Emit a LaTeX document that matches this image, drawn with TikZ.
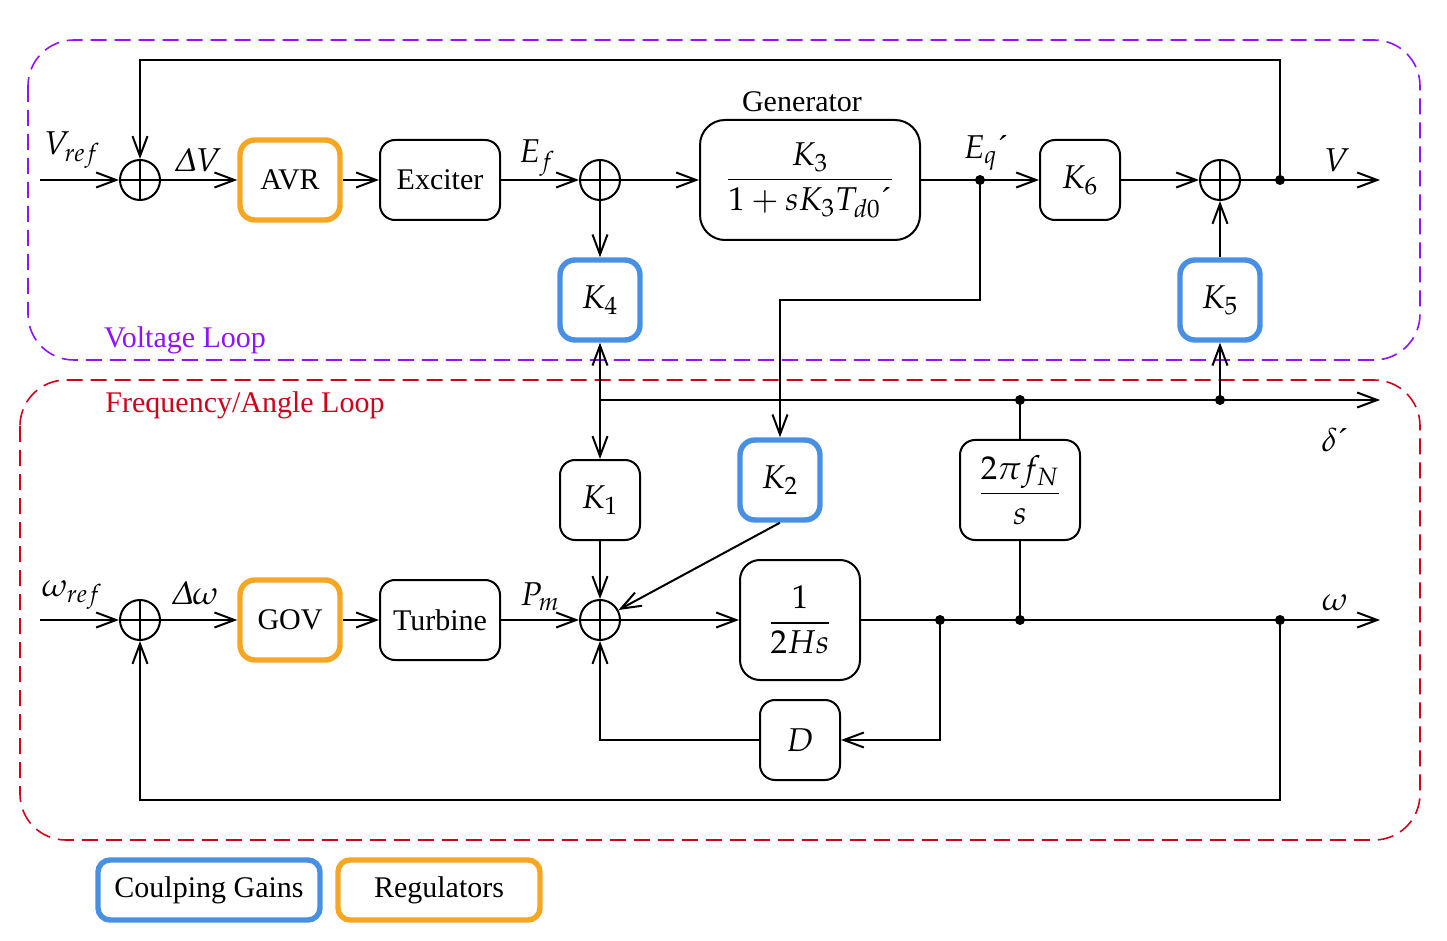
\documentclass[tikz,border=0pt]{standalone}
\usepackage{amsmath}
\usepackage{mathpazo}
\usepackage{fontspec}
\setmainfont{Liberation Serif}
\usetikzlibrary{arrows.meta}
\definecolor{cpurple}{HTML}{9013FE}
\definecolor{cred}{HTML}{D0021B}
\definecolor{cblue}{HTML}{4A90E2}
\definecolor{corange}{HTML}{F5A623}
\begin{document}
\begin{tikzpicture}[x=0.5pt,y=-0.5pt,line width=1pt,
  every node/.style={font=\fontsize{15}{18}\selectfont},
  blk/.style={draw,line width=1pt,rounded corners=7.5pt,minimum width=40pt,minimum height=40pt,inner sep=0pt},
  gainbox/.style={blk,draw=cblue,line width=2.7pt},
  regbox/.style={blk,draw=corange,line width=2.7pt},
  sumnode/.style={draw,circle,line width=1pt,minimum size=20pt,inner sep=0pt},
  dotnode/.style={circle,fill,inner sep=0pt,minimum size=5pt},
  arr/.style={-{Straight Barb[length=10pt,width=7.5pt]},line width=1pt},
  loopbox/.style={dashed,dash pattern=on 8pt off 4pt,line width=0.8pt,rounded corners=23pt},
  lbl/.style={inner sep=0pt},
  mth/.style={font=\fontsize{16.5}{19}\selectfont}
]
\useasboundingbox (0,0) rectangle (1447,941);

% loops
\draw[loopbox,cpurple] (28,40) rectangle (1420,360);
\draw[loopbox,cred] (20,380) rectangle (1420,840);
\node[lbl,text=cpurple] (vl) at (185,340) {Voltage Loop};
\node[lbl,text=cred] (fl) at (245,405) {Frequency/Angle Loop};

% top row
\coordinate (vin) at (40,180);
\node[sumnode] (s1) at (140,180) {};
\node[regbox,minimum width=50pt] (avr) at (290,180) {AVR};
\node[blk,minimum width=60pt] (exc) at (440,180) {Exciter};
\node[sumnode] (s2) at (600,180) {};
\node[blk,mth,minimum width=110pt,minimum height=60pt,rounded corners=12.5pt] (gen) at (810,180) {$\dfrac{K_3}{1+sK_3T_{d0}\text{´}}$};
\node[lbl] (genl) at (802,102) {Generator};
\node[dotnode] (deq) at (980,180) {};
\node[blk,mth] (k6) at (1080,180) {$K_6$};
\node[sumnode] (s3) at (1220,180) {};
\node[dotnode] (dv) at (1280,180) {};
\coordinate (vout) at (1380,180);
\coordinate (tr) at (1280,60);
\coordinate (tl) at (140,60);

\node[gainbox,mth] (k4) at (600,300) {$K_4$};
\node[gainbox,mth] (k5) at (1220,300) {$K_5$};
\coordinate (e1) at (980,300);
\coordinate (e2) at (780,300);

% delta line
\coordinate (j0) at (600,400);
\node[dotnode] (dd1) at (1020,400) {};
\node[dotnode] (dd2) at (1220,400) {};
\coordinate (dout) at (1380,400);

\node[blk,mth] (k1) at (600,500) {$K_1$};
\node[gainbox,mth] (k2) at (780,480) {$K_2$};
\node[blk,mth,minimum width=60pt,minimum height=50pt] (fn) at (1020,490) {$\dfrac{2\pi f_N}{s}$};

% bottom row
\coordinate (win) at (40,620);
\node[sumnode] (s4) at (140,620) {};
\node[regbox,minimum width=50pt] (gov) at (290,620) {GOV};
\node[blk,minimum width=60pt] (tur) at (440,620) {Turbine};
\node[sumnode] (s5) at (600,620) {};
\node[blk,mth,minimum width=60pt,minimum height=60pt,rounded corners=10pt] (h) at (800,620) {$\dfrac{1}{2Hs}$};
\node[dotnode] (dw1) at (940,620) {};
\node[dotnode] (dw2) at (1020,620) {};
\node[dotnode] (dw3) at (1280,620) {};
\coordinate (wout) at (1380,620);
\node[blk,mth] (d) at (800,740) {$D$};
\coordinate (c1) at (940,740);
\coordinate (c2) at (600,740);
\coordinate (b1) at (1280,800);
\coordinate (b2) at (140,800);

% crosses in sums
\foreach \s in {s1,s2,s3,s4,s5}{
  \draw (\s.north) -- (\s.south);
  \draw (\s.west) -- (\s.east);
}

% labels
\node[lbl,mth] (lvref) at (72,150) {$V_{ref}$};
\node[lbl,mth] (ldv) at (198,160) {$\varDelta V$};
\node[lbl,mth] (lef) at (537,158) {$E_f$};
\node[lbl,mth] (leq) at (986,153) {$E_q$´};
\node[lbl,mth] (lv) at (1337,160) {$V$};
\node[lbl,mth] (lwref) at (72,595) {$\omega_{ref}$};
\node[lbl,mth] (ldw) at (195,593) {$\varDelta\omega$};
\node[lbl,mth] (lpm) at (540,597) {$P_m$};
\node[lbl,mth] (lw) at (1335,603) {$\omega$};
\node[lbl,mth] (ld) at (1335,440) {$\delta$´};

% top connectors
\draw[arr] (vin) -- (s1.west);
\draw[arr] (s1.east) -- (avr.west);
\draw[arr] (avr.east) -- (exc.west);
\draw[arr] (exc.east) -- (s2.west);
\draw[arr] (s2.east) -- (gen.west);
\draw[arr] (gen.east) -- (deq.center) -- (k6.west);
\draw[arr] (k6.east) -- (s3.west);
\draw[arr] (s3.east) -- (dv.center) -- (vout);
\draw[arr] (dv.center) -- (tr) -- (tl) -- (s1.north);
\draw[arr] (s2.south) -- (k4.north);
\draw[arr] (k5.north) -- (s3.south);
\draw[arr] (deq.center) -- (e1) -- (e2) -- (k2.north);

% delta connectors
\draw[arr] (j0) -- (k4.south);
\draw[arr] (j0) -- (k1.north);
\draw[arr] (j0) -- (dout);
\draw[arr] (dd2.center) -- (k5.south);
\draw (fn.north) -- (dd1.center);
\draw (fn.south) -- (dw2.center);

% bottom connectors
\draw[arr] (win) -- (s4.west);
\draw[arr] (s4.east) -- (gov.west);
\draw[arr] (gov.east) -- (tur.west);
\draw[arr] (tur.east) -- (s5.west);
\draw[arr] (k1.south) -- (s5.north);
\draw[arr] (k2.south) -- (s5);
\draw[arr] (s5.east) -- (h.west);
\draw[arr] (h.east) -- (wout);
\draw[arr] (dw1.center) -- (c1) -- (d.east);
\draw[arr] (d.west) -- (c2) -- (s5.south);
\draw[arr] (dw3.center) -- (b1) -- (b2) -- (s4.south);

% legend
\node[gainbox,minimum width=111pt,minimum height=30pt,rounded corners=6pt] (lg1) at (209,890) {Coulping Gains};
\node[regbox,minimum width=101pt,minimum height=30pt,rounded corners=6pt] (lg2) at (439,890) {Regulators};
\end{tikzpicture}
\end{document}
